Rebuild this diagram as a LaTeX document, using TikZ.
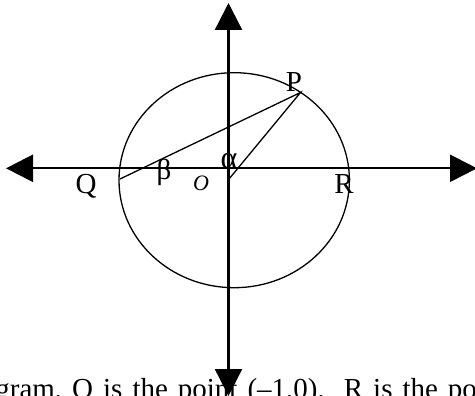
\documentclass[tikz,border=0pt]{standalone}
\usepackage{fontspec}
\setmainfont{Liberation Serif}
\usetikzlibrary{arrows.meta}
\begin{document}
\begin{tikzpicture}[x=1pt,y=-1pt,
  axisline/.style={line width=2.4pt,
    {Triangle[length=27pt,width=27pt]}-{Triangle[length=27pt,width=27pt]}},
  geomline/.style={line width=1.3pt},
  lbl/.style={inner sep=0pt, anchor=base, font=\fontsize{29}{29}\selectfont}]
\useasboundingbox (0,0) rectangle (475,396);
\clip (0,0) rectangle (475,396);
\coordinate (top) at (228.5,3);
\coordinate (bottom) at (228.5,396);
\coordinate (left) at (6,168.3);
\coordinate (right) at (477,168.3);
\draw[axisline] (bottom) -- (top);
\draw[axisline] (left) -- (right);
\coordinate (centre) at (234.2,180.2);
\draw[geomline] (centre) ellipse [x radius=115.2pt, y radius=107.5pt];
\coordinate (Qpt) at (120,179);
\coordinate (Opt) at (229,179);
\coordinate (Ppt) at (300.5,92.5);
\draw[geomline] (Qpt) -- (Ppt) -- (Opt);
\node[lbl] (Plbl) at (294,92) {P};
\node[lbl] (Qlbl) at (86,194) {Q};
\node[lbl] (Rlbl) at (344,194) {R};
\node[lbl] (beta) at (164,180) {β};
\node[lbl, font=\fontsize{32}{32}\selectfont] (alpha) at (229,168) {α};
\node[lbl, font=\fontsize{22}{22}\selectfont\itshape] (Olbl) at (201,191) {O};
\node[lbl, anchor=base west] (caption) at (72,399) {\spaceskip=10pt plus 1pt\llap{In the diagram, }Q is the point (–1,0),\hspace{9pt} R is the point (1,0)};
\end{tikzpicture}
\end{document}
